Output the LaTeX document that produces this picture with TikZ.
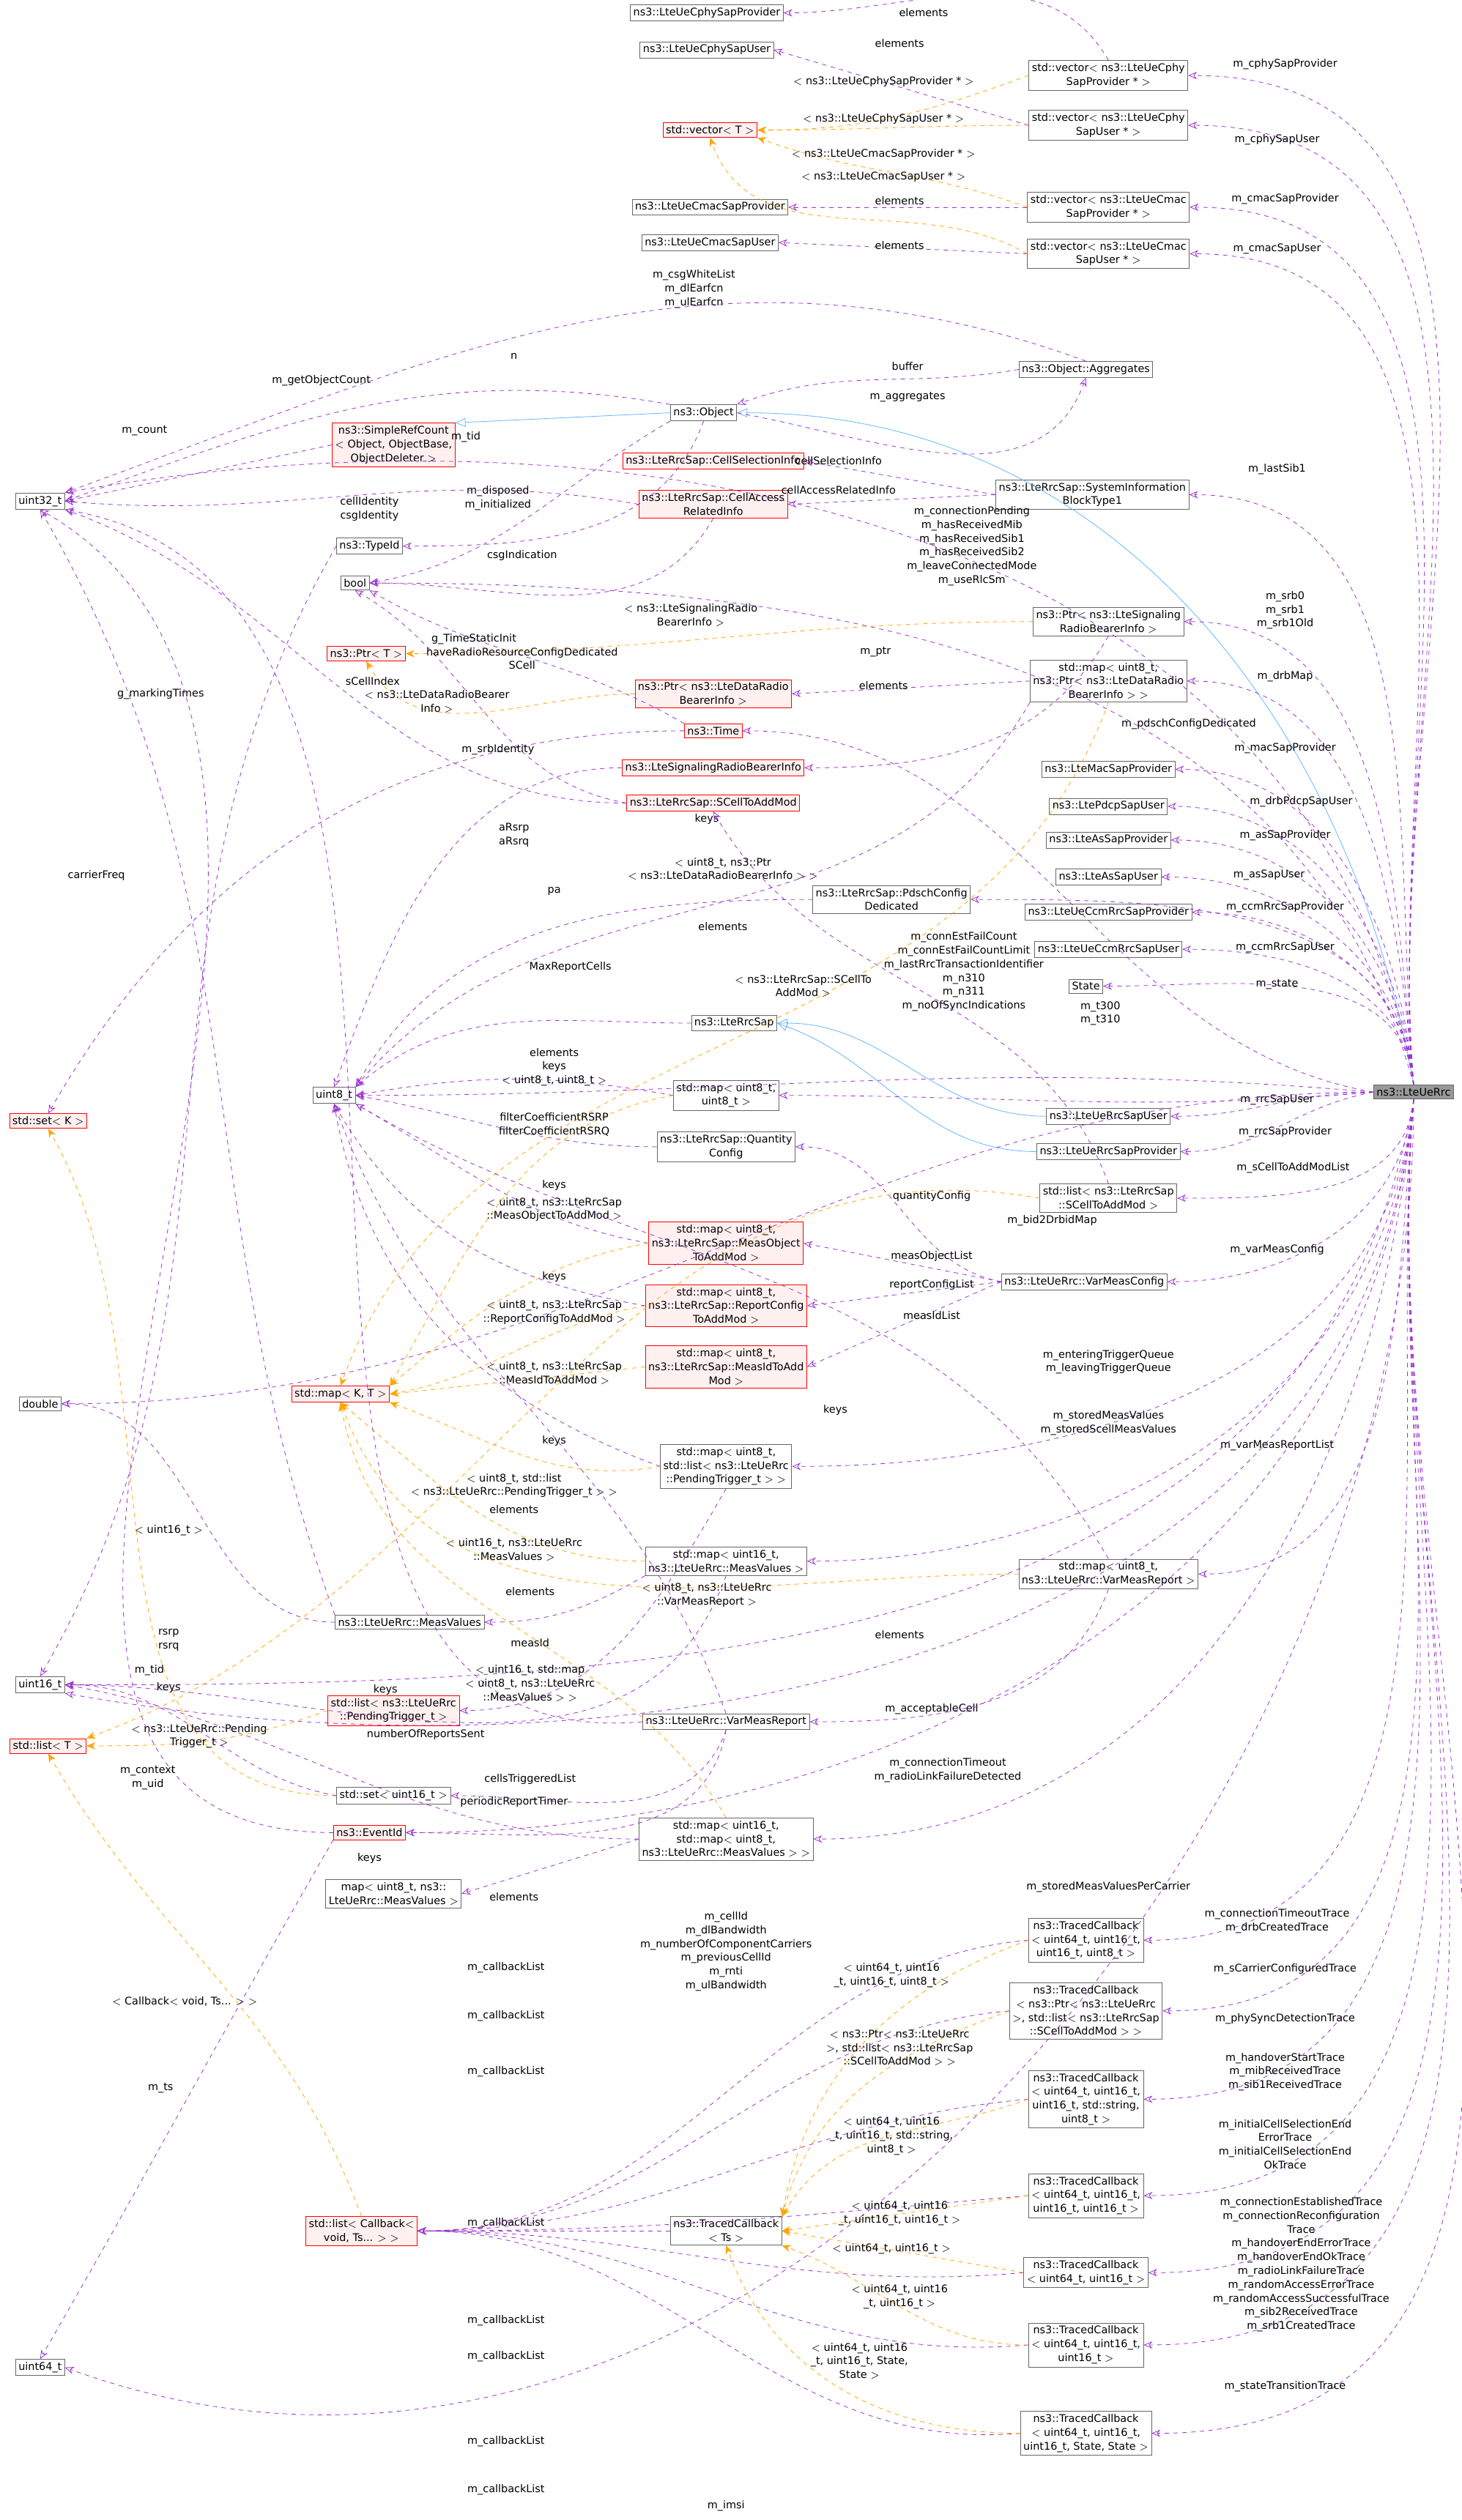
\documentclass[tikz,border=0pt]{standalone}
\usepackage{fontspec}
\setmainfont{DejaVu Sans}
\usetikzlibrary{arrows.meta}
\definecolor{mem}{HTML}{9A32CD}
\definecolor{tpl}{HTML}{FFA500}
\definecolor{inh}{HTML}{63B8FF}
\tikzset{
 bx/.style={draw=black!60,fill=white,inner sep=2pt,align=center,font=\fontsize{7.2}{9.4}\selectfont},
 rb/.style={bx,draw=red,fill=red!6},
 lb/.style={inner sep=0pt,align=center,font=\fontsize{7.2}{9.4}\selectfont},
 me/.style={draw=mem,dashed,-{Stealth[open,length=6pt,width=5pt]}},
 te/.style={draw=tpl,dashed,-{Stealth[length=6pt,width=5pt]}},
 ie/.style={draw=inh,-{Triangle[open,length=7pt,width=6pt]}}
}
\begin{document}
\begin{tikzpicture}[x=1.0965pt,y=-1.0965pt]
\useasboundingbox (0,0) rectangle (910,1569);
\fill[white] (0,0) rectangle (910,1569);
% right
\node[bx,fill=black!40] (rrc) at (880,680) {ns3::LteUeRrc};
% middle-right column
\node[bx] (vcp) at (690,47) {std::vector$<$ ns3::LteUeCphy\\SapProvider * $>$};
\node[bx] (vcu) at (690,78) {std::vector$<$ ns3::LteUeCphy\\SapUser * $>$};
\node[bx] (vmp) at (690,129) {std::vector$<$ ns3::LteUeCmac\\SapProvider * $>$};
\node[bx] (vmu) at (690,158) {std::vector$<$ ns3::LteUeCmac\\SapUser * $>$};
\node[bx] (agg) at (676,230) {ns3::Object::Aggregates};
\node[bx] (sib) at (680,308) {ns3::LteRrcSap::SystemInformation\\BlockType1};
\node[bx] (psrb) at (690,387) {ns3::Ptr$<$ ns3::LteSignaling\\RadioBearerInfo $>$};
\node[bx] (mdrb) at (690,424) {std::map$<$ uint8\_t,\\ns3::Ptr$<$ ns3::LteDataRadio\\BearerInfo $>$ $>$};
\node[bx] (macp) at (690,479) {ns3::LteMacSapProvider};
\node[bx] (pdcp) at (690,502) {ns3::LtePdcpSapUser};
\node[bx] (asp) at (690,523) {ns3::LteAsSapProvider};
\node[bx] (asu) at (690,546) {ns3::LteAsSapUser};
\node[bx] (ccmp) at (690,568) {ns3::LteUeCcmRrcSapProvider};
\node[bx] (ccmu) at (690,591) {ns3::LteUeCcmRrcSapUser};
\node[bx] (state) at (676,614) {State};
\node[bx] (rsu) at (690,695) {ns3::LteUeRrcSapUser};
\node[bx] (rsp) at (690,717) {ns3::LteUeRrcSapProvider};
\node[bx] (scl) at (690,746) {std::list$<$ ns3::LteRrcSap\\::SCellToAddMod $>$};
\node[bx] (vmc) at (675,798) {ns3::LteUeRrc::VarMeasConfig};
\node[bx] (mvmr) at (690,980) {std::map$<$ uint8\_t,\\ns3::LteUeRrc::VarMeasReport $>$};
\node[bx] (tc1) at (676,1208) {ns3::TracedCallback\\$<$ uint64\_t, uint16\_t,\\uint16\_t, uint8\_t $>$};
\node[bx] (tc2) at (676,1252) {ns3::TracedCallback\\$<$ ns3::Ptr$<$ ns3::LteUeRrc\\$>$, std::list$<$ ns3::LteRrcSap\\::SCellToAddMod $>$ $>$};
\node[bx] (tc3) at (676,1307) {ns3::TracedCallback\\$<$ uint64\_t, uint16\_t,\\uint16\_t, std::string,\\uint8\_t $>$};
\node[bx] (tc4) at (676,1367) {ns3::TracedCallback\\$<$ uint64\_t, uint16\_t,\\uint16\_t, uint16\_t $>$};
\node[bx] (tc5) at (676,1415) {ns3::TracedCallback\\$<$ uint64\_t, uint16\_t $>$};
\node[bx] (tc6) at (676,1460) {ns3::TracedCallback\\$<$ uint64\_t, uint16\_t,\\uint16\_t $>$};
\node[bx] (tc7) at (676,1515) {ns3::TracedCallback\\$<$ uint64\_t, uint16\_t,\\uint16\_t, State, State $>$};
% second column
\node[bx] (cphp) at (440,8) {ns3::LteUeCphySapProvider};
\node[bx] (cphu) at (440,31) {ns3::LteUeCphySapUser};
\node[rb] (vecT) at (442,81) {std::vector$<$ T $>$};
\node[bx] (cmp) at (442,129) {ns3::LteUeCmacSapProvider};
\node[bx] (cmu) at (442,151) {ns3::LteUeCmacSapUser};
\node[bx] (obj) at (438,257) {ns3::Object};
\node[rb] (csi) at (444,287) {ns3::LteRrcSap::CellSelectionInfo};
\node[rb] (cari) at (444,314) {ns3::LteRrcSap::CellAccess\\RelatedInfo};
\node[rb] (pdrb) at (444,432) {ns3::Ptr$<$ ns3::LteDataRadio\\BearerInfo $>$};
\node[rb] (time) at (444,455) {ns3::Time};
\node[rb] (srbi) at (444,478) {ns3::LteSignalingRadioBearerInfo};
\node[rb] (scm) at (444,500) {ns3::LteRrcSap::SCellToAddMod};
\node[bx] (pdsch) at (555,560) {ns3::LteRrcSap::PdschConfig\\Dedicated};
\node[bx] (sap) at (457,637) {ns3::LteRrcSap};
\node[bx] (m88) at (452,682) {std::map$<$ uint8\_t,\\uint8\_t $>$};
\node[bx] (qc) at (452,714) {ns3::LteRrcSap::Quantity\\Config};
\node[rb] (mmo) at (452,774) {std::map$<$ uint8\_t,\\ns3::LteRrcSap::MeasObject\\ToAddMod $>$};
\node[rb] (mrc) at (452,813) {std::map$<$ uint8\_t,\\ns3::LteRrcSap::ReportConfig\\ToAddMod $>$};
\node[rb] (mmi) at (452,851) {std::map$<$ uint8\_t,\\ns3::LteRrcSap::MeasIdToAdd\\Mod $>$};
\node[bx] (mpt) at (452,913) {std::map$<$ uint8\_t,\\std::list$<$ ns3::LteUeRrc\\::PendingTrigger\_t $>$ $>$};
\node[bx] (mmv) at (452,972) {std::map$<$ uint16\_t,\\ns3::LteUeRrc::MeasValues $>$};
\node[bx] (vmr) at (452,1072) {ns3::LteUeRrc::VarMeasReport};
\node[bx] (mmm) at (452,1145) {std::map$<$ uint16\_t,\\std::map$<$ uint8\_t,\\ns3::LteUeRrc::MeasValues $>$ $>$};
\node[bx] (tcT) at (452,1389) {ns3::TracedCallback\\$<$ Ts $>$};
% third column
\node[rb] (src) at (245,277) {ns3::SimpleRefCount\\$<$ Object, ObjectBase,\\ObjectDeleter $>$};
\node[bx] (tid) at (230,340) {ns3::TypeId};
\node[bx] (bool) at (221,363) {bool};
\node[rb] (ptrT) at (228,407) {ns3::Ptr$<$ T $>$};
\node[bx] (u8) at (208,682) {uint8\_t};
\node[rb] (mapKT) at (212,868) {std::map$<$ K, T $>$};
\node[bx] (mv) at (255,1010) {ns3::LteUeRrc::MeasValues};
\node[rb] (lpt) at (245,1065) {std::list$<$ ns3::LteUeRrc\\::PendingTrigger\_t $>$};
\node[bx] (su16) at (245,1118) {std::set$<$ uint16\_t $>$};
\node[rb] (eid) at (230,1141) {ns3::EventId};
\node[bx] (mu8mv) at (245,1179) {map$<$ uint8\_t, ns3::\\LteUeRrc::MeasValues $>$};
\node[rb] (lcb) at (225,1389) {std::list$<$ Callback$<$\\void, Ts... $>$ $>$};
% far left
\node[bx] (u32) at (25,312) {uint32\_t};
\node[rb] (setK) at (30,698) {std::set$<$ K $>$};
\node[bx] (dbl) at (25,874) {double};
\node[bx] (u16) at (25,1049) {uint16\_t};
\node[rb] (listT) at (30,1087) {std::list$<$ T $>$};
\node[bx] (u64) at (25,1474) {uint64\_t};

% inheritance
\draw[ie] (rrc.north) to[out=100,in=0] (obj.east);
\draw[ie] (obj.west) -- (src.north east);
\draw[ie] (rsu.west) to[out=180,in=0] (sap.east);
\draw[ie] (rsp.west) to[out=180,in=-20] (sap.east);

% members from rrc
\newcommand\up[3]{\draw[me] (rrc.north) to[out=95,in=0] (#1.east); \node[lb] at (#2) {#3};}
\newcommand\dn[3]{\draw[me] (rrc.south) to[out=-95,in=0] (#1.east); \node[lb] at (#2) {#3};}
\up{vcp}{800,40}{m\_cphySapProvider}
\up{vcu}{795,87}{m\_cphySapUser}
\up{vmp}{800,124}{m\_cmacSapProvider}
\up{vmu}{795,155}{m\_cmacSapUser}
\up{sib}{795,292}{m\_lastSib1}
\up{psrb}{800,380}{m\_srb0\\m\_srb1\\m\_srb1Old}
\up{mdrb}{800,421}{m\_drbMap}
\up{pdsch}{740,451}{m\_pdschConfigDedicated}
\up{macp}{800,466}{m\_macSapProvider}
\up{pdcp}{810,499}{m\_drbPdcpSapUser}
\up{asp}{800,520}{m\_asSapProvider}
\up{asu}{790,545}{m\_asSapUser}
\up{ccmp}{800,565}{m\_ccmRrcSapProvider}
\up{ccmu}{800,590}{m\_ccmRrcSapUser}
\up{state}{795,613}{m\_state}
\draw[me] (rrc.west) to[out=180,in=0] (rsu.east); \node[lb] at (795,685) {m\_rrcSapUser};
\draw[me] (rrc.west) to[out=190,in=0] (rsp.east); \node[lb] at (800,705) {m\_rrcSapProvider};
\dn{scl}{805,727}{m\_sCellToAddModList}
\dn{vmc}{795,778}{m\_varMeasConfig}
\dn{mpt}{690,848}{m\_enteringTriggerQueue\\m\_leavingTriggerQueue}
\dn{mmv}{690,886}{m\_storedMeasValues\\m\_storedScellMeasValues}
\dn{mvmr}{795,900}{m\_varMeasReportList}
\dn{mmm}{690,1175}{m\_storedMeasValuesPerCarrier}
\dn{tc1}{795,1196}{m\_connectionTimeoutTrace\\m\_drbCreatedTrace}
\dn{tc2}{800,1226}{m\_sCarrierConfiguredTrace}
\dn{tc3}{800,1257}{m\_phySyncDetectionTrace}
\dn{tc4}{800,1290}{m\_handoverStartTrace\\m\_mibReceivedTrace\\m\_sib1ReceivedTrace}
\dn{tc5}{800,1335}{m\_initialCellSelectionEnd\\ErrorTrace\\m\_initialCellSelectionEnd\\OkTrace}
\dn{tc6}{810,1410}{m\_connectionEstablishedTrace\\m\_connectionReconfiguration\\Trace\\m\_handoverEndErrorTrace\\m\_handoverEndOkTrace\\m\_radioLinkFailureTrace\\m\_randomAccessErrorTrace\\m\_randomAccessSuccessfulTrace\\m\_sib2ReceivedTrace\\m\_srb1CreatedTrace}
\dn{tc7}{800,1486}{m\_stateTransitionTrace}
\draw[me] (rrc.north) to[out=100,in=10] (u32.north east); \node[lb] at (432,180) {m\_csgWhiteList\\m\_dlEarfcn\\m\_ulEarfcn};
\draw[me] (rrc.north) to[out=105,in=0] (bool.east); \node[lb] at (605,340) {m\_connectionPending\\m\_hasReceivedMib\\m\_hasReceivedSib1\\m\_hasReceivedSib2\\m\_leaveConnectedMode\\m\_useRlcSm};
\draw[me] (rrc.west) to[out=170,in=0] (time.east); \node[lb] at (685,631) {m\_t300\\m\_t310};
\draw[me] (rrc.west) to[out=175,in=0] (u8.east); \node[lb] at (600,605) {m\_connEstFailCount\\m\_connEstFailCountLimit\\m\_lastRrcTransactionIdentifier\\m\_n310\\m\_n311\\m\_noOfSyncIndications};
\draw[me] (rrc.west) to[out=185,in=0] (m88.east); \node[lb] at (655,760) {m\_bid2DrbidMap};
\draw[me] (rrc.south) to[out=-100,in=0] (u16.east); \node[lb] at (580,1064) {m\_acceptableCell};
\draw[me] (rrc.south) to[out=-95,in=0] (eid.east); \node[lb] at (590,1102) {m\_connectionTimeout\\m\_radioLinkFailureDetected};
\draw[me] (rrc.south) to[out=-95,in=-10] (u16.south east); \node[lb] at (452,1215) {m\_cellId\\m\_dlBandwidth\\m\_numberOfComponentCarriers\\m\_previousCellId\\m\_rnti\\m\_ulBandwidth};
\draw[me] (rrc.south) to[out=-90,in=-20] (u64.east); \node[lb] at (452,1560) {m\_imsi};
\draw[me] (rrc.west) to[out=180,in=0] (dbl.east); \node[lb] at (320,520) {aRsrp\\aRsrq};

% vectors
\draw[me] (vcp.north) to[out=120,in=0] (cphp.east); \node[lb] at (575,8) {elements};
\draw[me] (vcu.west) -- (cphu.east); \node[lb] at (560,27) {elements};
\draw[me] (vmp.west) -- (cmp.east); \node[lb] at (560,125) {elements};
\draw[me] (vmu.west) -- (cmu.east); \node[lb] at (560,153) {elements};
\draw[te] (vcp.west) to[out=200,in=0] (vecT.east); \node[lb] at (550,51) {$<$ ns3::LteUeCphySapProvider * $>$};
\draw[te] (vcu.west) to[out=180,in=0] (vecT.east); \node[lb] at (550,74) {$<$ ns3::LteUeCphySapUser * $>$};
\draw[te] (vmp.west) to[out=160,in=-20] (vecT.south east); \node[lb] at (550,96) {$<$ ns3::LteUeCmacSapProvider * $>$};
\draw[te] (vmu.west) to[out=150,in=-70] (vecT.south); \node[lb] at (550,110) {$<$ ns3::LteUeCmacSapUser * $>$};
% object
\draw[me] (agg.north) to[out=160,in=20] (u32.north east); \node[lb] at (320,222) {n};
\draw[me] (agg.west) to[out=190,in=20] (obj.north east); \node[lb] at (565,228) {buffer};
\draw[me] (obj.east) to[out=-10,in=250] (agg.south); \node[lb] at (565,247) {m\_aggregates};
\draw[me] (obj.north west) to[out=170,in=20] (u32.east); \node[lb] at (200,237) {m\_getObjectCount};
\draw[me] (src.west) -- (u32.east); \node[lb] at (90,268) {m\_count};
\draw[me] (obj.south) to[out=-110,in=0] (tid.east); \node[lb] at (290,272) {m\_tid};
\draw[me] (obj.south west) to[out=-150,in=10] (bool.east); \node[lb] at (310,310) {m\_disposed\\m\_initialized};
\draw[me] (cari.west) to[out=170,in=-5] (u32.east); \node[lb] at (230,317) {cellIdentity\\csgIdentity};
\draw[me] (cari.south) to[out=-120,in=0] (bool.east); \node[lb] at (325,346) {csgIndication};
\draw[me] (sib.west) -- (csi.east); \node[lb] at (522,287) {cellSelectionInfo};
\draw[me] (sib.west) -- (cari.east); \node[lb] at (522,305) {cellAccessRelatedInfo};
\draw[me] (tid.west) to[out=-120,in=60] (u16.north); \node[lb] at (93,1040) {m\_tid};
\draw[me] (time.west) to[out=180,in=60] (setK.north); \node[lb] at (100,432) {g\_markingTimes};
\draw[me] (time.north west) to[out=150,in=-30] (bool.south east); \node[lb] at (295,398) {g\_TimeStaticInit};
\draw[te] (psrb.west) to[out=180,in=0] (ptrT.east); \node[lb] at (430,383) {$<$ ns3::LteSignalingRadio\\BearerInfo $>$};
\draw[te] (pdrb.west) to[out=180,in=-60] (ptrT.south); \node[lb] at (272,437) {$<$ ns3::LteDataRadioBearer\\Info $>$};
\draw[me] (psrb.south) to[out=-120,in=0] (srbi.east); \node[lb] at (545,406) {m\_ptr};
\draw[me] (mdrb.west) -- (pdrb.east); \node[lb] at (550,427) {elements};
\draw[me] (scm.west) to[out=170,in=-30] (bool.south); \node[lb] at (325,410) {haveRadioResourceConfigDedicated\\SCell};
\draw[me] (scm.west) to[out=180,in=-20] (u32.south east); \node[lb] at (232,424) {sCellIndex};
\draw[me] (srbi.west) to[out=180,in=70] (u8.north); \node[lb] at (310,467) {m\_srbIdentity};
\draw[me] (pdsch.west) to[out=180,in=60] (u8.north east); \node[lb] at (345,555) {pa};
\draw[te] (mdrb.south) to[out=-110,in=70] (mapKT.north); \node[lb] at (450,541) {$<$ uint8\_t, ns3::Ptr\\$<$ ns3::LteDataRadioBearerInfo $>$ $>$};
\draw[me] (mdrb.south west) to[out=-120,in=50] (u8.north east); \node[lb] at (440,510) {keys};
\draw[me] (mv.north west) to[out=110,in=-60] (u32.south); \node[lb] at (60,545) {carrierFreq};
\draw[me] (sap.west) to[out=180,in=40] (u8.north east); \node[lb] at (355,602) {MaxReportCells};
\draw[te] (scl.west) to[out=170,in=20] (listT.north east); \node[lb] at (500,614) {$<$ ns3::LteRrcSap::SCellTo\\AddMod $>$};
\draw[me] (scl.north) to[out=110,in=-60] (scm.south); \node[lb] at (450,577) {elements};
\draw[me] (m88.west) to[out=170,in=10] (u8.east); \node[lb] at (345,660) {elements\\keys};
\draw[te] (m88.west) to[out=190,in=60] (mapKT.north east); \node[lb] at (345,673) {$<$ uint8\_t, uint8\_t $>$};
\draw[me] (qc.west) to[out=180,in=-10] (u8.east); \node[lb] at (345,700) {filterCoefficientRSRP\\filterCoefficientRSRQ};
\draw[me] (vmc.west) to[out=170,in=0] (qc.east); \node[lb] at (580,745) {quantityConfig};
\draw[me] (vmc.west) -- (mmo.east); \node[lb] at (580,782) {measObjectList};
\draw[me] (vmc.west) -- (mrc.east); \node[lb] at (580,800) {reportConfigList};
\draw[me] (vmc.west) -- (mmi.east); \node[lb] at (580,819) {measIdList};
\draw[me] (mmo.west) to[out=170,in=-30] (u8.south east); \node[lb] at (345,738) {keys};
\draw[te] (mmo.west) to[out=190,in=40] (mapKT.north east); \node[lb] at (345,753) {$<$ uint8\_t, ns3::LteRrcSap\\::MeasObjectToAddMod $>$};
\draw[me] (mrc.west) to[out=170,in=-60] (u8.south); \node[lb] at (345,795) {keys};
\draw[te] (mrc.west) to[out=190,in=10] (mapKT.east); \node[lb] at (345,817) {$<$ uint8\_t, ns3::LteRrcSap\\::ReportConfigToAddMod $>$};
\draw[te] (mmi.west) -- (mapKT.east); \node[lb] at (345,855) {$<$ uint8\_t, ns3::LteRrcSap\\::MeasIdToAddMod $>$};
\draw[me] (mpt.west) to[out=160,in=-80] (u8.south); \node[lb] at (345,897) {keys};
\draw[te] (mpt.west) to[out=190,in=-20] (mapKT.south east); \node[lb] at (320,925) {$<$ uint8\_t, std::list\\$<$ ns3::LteUeRrc::PendingTrigger\_t $>$ $>$};
\draw[me] (mpt.south) to[out=-120,in=0] (lpt.east); \node[lb] at (320,940) {elements};
\draw[te] (mmv.west) to[out=180,in=-40] (mapKT.south); \node[lb] at (320,965) {$<$ uint16\_t, ns3::LteUeRrc\\::MeasValues $>$};
\draw[me] (mmv.south west) to[out=-150,in=0] (mv.east); \node[lb] at (330,991) {elements};
\draw[me] (mmv.south) to[out=-110,in=0] (u16.east); \node[lb] at (240,1052) {keys};
\draw[me] (mvmr.north) to[out=120,in=-30] (u8.south east); \node[lb] at (520,878) {keys};
\draw[te] (mvmr.west) to[out=180,in=-70] (mapKT.south); \node[lb] at (440,993) {$<$ uint8\_t, ns3::LteUeRrc\\::VarMeasReport $>$};
\draw[me] (mvmr.south) to[out=-110,in=0] (vmr.east); \node[lb] at (560,1018) {elements};
\draw[me] (vmr.north) to[out=110,in=-70] (u8.south); \node[lb] at (330,1023) {measId};
\draw[me] (vmr.west) to[out=185,in=-10] (u32.south east); \node[lb] at (265,1080) {numberOfReportsSent};
\draw[me] (vmr.south) to[out=-110,in=0] (su16.east); \node[lb] at (330,1108) {cellsTriggeredList};
\draw[me] (vmr.south) to[out=-100,in=0] (eid.east); \node[lb] at (320,1122) {periodicReportTimer};
\draw[me] (mv.west) to[out=180,in=0] (dbl.east); \node[lb] at (105,1021) {rsrp\\rsrq};
\draw[te] (su16.west) to[out=180,in=-60] (setK.south); \node[lb] at (105,953) {$<$ uint16\_t $>$};
\draw[me] (su16.west) to[out=170,in=0] (u16.east); \node[lb] at (105,1051) {keys};
\draw[te] (lpt.west) to[out=200,in=0] (listT.east); \node[lb] at (124,1081) {$<$ ns3::LteUeRrc::Pending\\Trigger\_t $>$};
\draw[me] (eid.west) to[out=180,in=-30] (u32.south); \node[lb] at (92,1107) {m\_context\\m\_uid};
\draw[me] (eid.south west) to[out=-120,in=60] (u64.north); \node[lb] at (100,1300) {m\_ts};
\draw[me] (mmm.west) to[out=180,in=-10] (u16.east); \node[lb] at (230,1157) {keys};
\draw[me] (mmm.west) -- (mu8mv.east); \node[lb] at (320,1181) {elements};
\draw[te] (mmm.north) to[out=120,in=-80] (mapKT.south); \node[lb] at (330,1048) {$<$ uint16\_t, std::map\\$<$ uint8\_t, ns3::LteUeRrc\\::MeasValues $>$ $>$};
\draw[te] (lcb.north) to[out=110,in=-60] (listT.south); \node[lb] at (115,1246) {$<$ Callback$<$ void, Ts... $>$ $>$};
\draw[me] (tcT.west) -- (lcb.east); \node[lb] at (315,1384) {m\_callbackList};
% traced callbacks
\foreach \t/\y in {tc1/1225,tc2/1255,tc3/1290,tc4/1445,tc5/1467,tc6/1520,tc7/1550}{
 \draw[me] (\t.west) to[out=185,in=0] (lcb.east);
 \node[lb] at (315,\y) {m\_callbackList};
}
\draw[te] (tc1.west) to[out=200,in=80] (tcT.north east); \node[lb] at (555,1230) {$<$ uint64\_t, uint16\\\_t, uint16\_t, uint8\_t $>$};
\draw[te] (tc2.west) to[out=200,in=75] (tcT.north east); \node[lb] at (560,1275) {$<$ ns3::Ptr$<$ ns3::LteUeRrc\\$>$, std::list$<$ ns3::LteRrcSap\\::SCellToAddMod $>$ $>$};
\draw[te] (tc3.west) to[out=200,in=60] (tcT.north east); \node[lb] at (555,1330) {$<$ uint64\_t, uint16\\\_t, uint16\_t, std::string,\\uint8\_t $>$};
\draw[te] (tc4.west) -- (tcT.east); \node[lb] at (560,1378) {$<$ uint64\_t, uint16\\\_t, uint16\_t, uint16\_t $>$};
\draw[te] (tc5.west) -- (tcT.east); \node[lb] at (555,1400) {$<$ uint64\_t, uint16\_t $>$};
\draw[te] (tc6.west) to[out=180,in=-20] (tcT.south east); \node[lb] at (560,1430) {$<$ uint64\_t, uint16\\\_t, uint16\_t $>$};
\draw[te] (tc7.west) to[out=180,in=-70] (tcT.south); \node[lb] at (535,1470) {$<$ uint64\_t, uint16\\\_t, uint16\_t, State,\\State $>$};
\end{tikzpicture}
\end{document}
